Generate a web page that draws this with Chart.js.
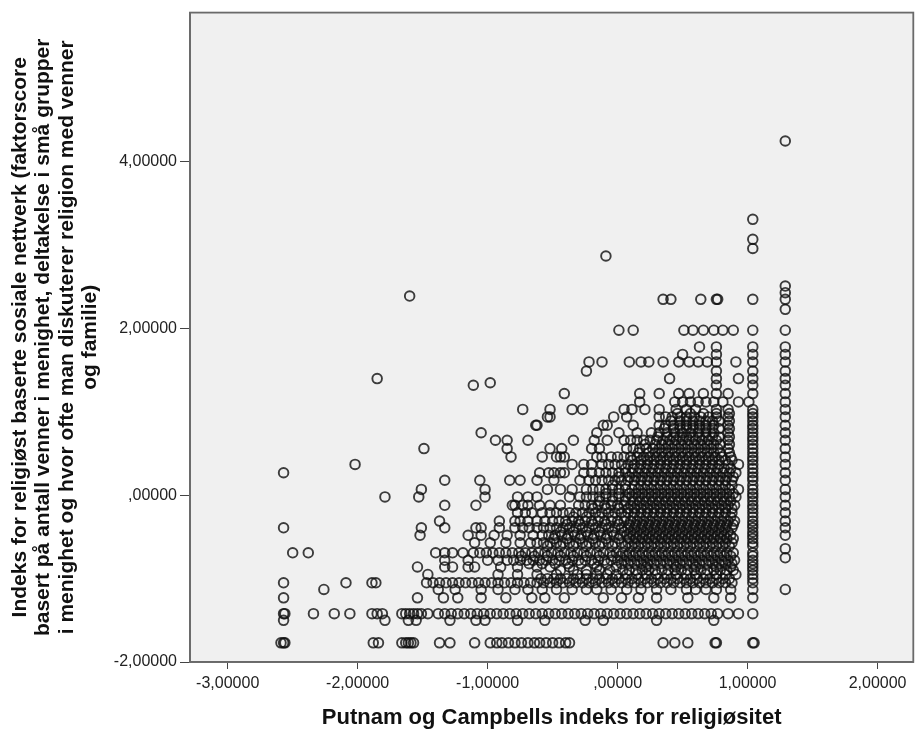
<!DOCTYPE html>
<html><head><meta charset="utf-8">
<script src="https://cdn.jsdelivr.net/npm/chart.js@4.4.1/dist/chart.umd.min.js"></script>
<style>html,body{margin:0;padding:0;background:#fff}#wrap{width:920px;height:732px}</style>
</head><body><div id="wrap"><canvas id="c" width="920" height="732" style="width:920px;height:732px"></canvas></div>
<script>
// ---- axis text ----
const xTitle = 'Putnam og Campbells indeks for religiøsitet';
const yTitle = [
  'Indeks for religiøst baserte sosiale nettverk (faktorscore',
  'basert på antall venner i menighet, deltakelse i små grupper',
  'i menighet og hvor ofte man diskuterer religion med venner',
  'og familie)'
];
const xTickValues = [-3, -2, -1, 0, 1, 2];
const xTickLabels = ['-3,00000', '-2,00000', '-1,00000', ',00000', '1,00000', '2,00000'];
const yTickValues = [-2, 0, 2, 4];
const yTickLabels = ['-2,00000', ',00000', '2,00000', '4,00000'];

// ---- data: y level of each row, and the x values observed on that row ----
const yLevels = [-1.77, -1.50, -1.42, -1.23, -1.13, -1.05, -0.95, -0.86, -0.78, -0.75, -0.69, -0.64, -0.57, -0.48, -0.39, -0.31, -0.21, -0.12, -0.02, 0.07, 0.18, 0.27, 0.37, 0.46, 0.56, 0.66, 0.75, 0.84, 0.94, 1.03, 1.12, 1.22, 1.32, 1.35, 1.40, 1.49, 1.60, 1.69, 1.78, 1.98, 2.23, 2.35, 2.39, 2.43, 2.51, 2.87, 2.96, 3.07, 3.31, 4.25,
  -1.00, -0.90, -0.82, -0.73, -0.61, -0.52, -0.44, -0.35, -0.26, -0.16, -0.07, 0.02, 0.12, 0.22, 0.32, 0.42, 0.51, 0.61, 0.70, 0.80, 0.89, 0.98];

const xM177 = [-2.59,-2.57,-2.56,-1.88,-1.84,-1.66,-1.63,-1.61,-1.59,-1.57,-1.37,-1.29,-1.10,-0.98,-0.93,-0.89,-0.84,-0.79,-0.74,-0.69,-0.64,-0.60,-0.55,-0.50,-0.45,-0.40,-0.37,0.35,0.44,0.54,0.75,0.76,1.04,1.05];
const xM150 = [-2.57,-1.79,-1.61,-1.55,-1.29,-1.09,-1.02,-0.77,-0.56,-0.25,-0.11,0.30,0.74];
const xM142 = [-2.57,-2.56,-2.34,-2.18,-2.06,-1.89,-1.85,-1.81,-1.66,-1.63,-1.60,-1.57,-1.54,-1.51,-1.46,-1.38,-1.33,-1.28,-1.23,-1.18,-1.13,-1.08,-1.03,-0.98,-0.93,-0.88,-0.83,-0.78,-0.73,-0.68,-0.63,-0.58,-0.53,-0.48,-0.43,-0.38,-0.33,-0.28,-0.23,-0.18,-0.13,-0.08,-0.03,0.02,0.07,0.12,0.17,0.22,0.27,0.32,0.37,0.42,0.47,0.52,0.57,0.62,0.67,0.72,0.77,0.85,0.93,1.04];
const xM123 = [-2.57,-1.54,-1.34,-1.23,-1.05,-0.86,-0.66,-0.56,-0.41,-0.11,0.03,0.16,0.30,0.54,0.74,0.87,1.04];
const xM113 = [-2.26,-1.38,-1.25,-1.05,-0.92,-0.79,-0.69,-0.58,-0.47,-0.35,-0.24,-0.16,-0.05,0.07,0.18,0.30,0.41,0.53,0.60,0.68,0.76,0.87,1.04,1.29];
const xM105 = [-2.57,-2.09,-1.89,-1.86,-1.47,-1.42,-1.37,-1.32,-1.27,-1.22,-1.17,-1.12,-1.07,-1.02,-0.97,-0.92,-0.87,-0.82,-0.77,-0.72,-0.67,-0.62,-0.57,-0.52,-0.47,-0.42,-0.37,-0.32,-0.27,-0.22,-0.17,-0.12,-0.07,-0.02,0.03,0.08,0.13,0.18,0.23,0.28,0.33,0.38,0.43,0.48,0.53,0.58,0.63,0.68,0.73,0.78,0.83,0.88,1.04];
const xM095 = [-1.46,-0.92,-0.77,-0.62,-0.47,-0.31,-0.24,-0.16,-0.08,-0.01,0.07,0.15,0.22,0.30,0.38,0.45,0.53,0.60,0.68,0.76,0.83,0.91,1.04];
const xM086 = [-1.54,-1.33,-1.27,-1.15,-1.10,-0.90,-0.77,-0.62,-0.52,-0.37,-0.16,-0.01,0.22,0.45,0.60,0.76,0.87,1.04];
const xM078 = [-1.33,-1.15,-1.00,-0.92,-0.85,-0.80,-0.75,-0.70,-0.65,-0.60,-0.55,-0.50,-0.45,-0.40,-0.35,-0.30,-0.25,-0.20,-0.15,-0.10,-0.05,0.00,0.05,0.10,0.15,0.20,0.25,0.30,0.35,0.40,0.45,0.50,0.55,0.60,0.65,0.70,0.75,0.80,0.85,0.90,1.04];
const xM075 = [1.29];
const xM069 = [-2.50,-2.38,-1.40,-1.33,-1.27,-1.19,-1.11,-1.06,-1.01,-0.96,-0.91,-0.86,-0.81,-0.76,-0.71,-0.66,-0.61,-0.56,-0.51,-0.46,-0.41,-0.36,-0.31,-0.26,-0.21,-0.16,-0.11,-0.06,-0.01,0.04,0.09,0.14,0.19,0.24,0.29,0.34,0.39,0.44,0.49,0.54,0.59,0.64,0.69,0.74,0.79,0.84,0.89,1.04];
const xM064 = [1.29];
const xM057 = [-1.10,-0.98,-0.86,-0.75,-0.67,-0.62,-0.57,-0.52,-0.47,-0.42,-0.37,-0.32,-0.27,-0.22,-0.17,-0.12,-0.07,-0.02,0.03,0.08,0.13,0.18,0.23,0.28,0.33,0.38,0.43,0.48,0.53,0.58,0.63,0.68,0.73,0.78,0.83,0.88,1.04];
const xM048 = [-1.52,-1.15,-1.05,-0.95,-0.85,-0.75,-0.65,-0.58,-0.53,-0.48,-0.43,-0.38,-0.33,-0.28,-0.23,-0.18,-0.13,-0.08,-0.03,0.02,0.07,0.12,0.17,0.22,0.27,0.32,0.37,0.42,0.47,0.52,0.57,0.62,0.67,0.72,0.77,0.82,0.87,1.04,1.29];
const xM039 = [-2.57,-1.51,-1.33,-1.09,-1.05,-0.91,-0.79,-0.73,-0.68,-0.62,-0.57,-0.52,-0.47,-0.42,-0.37,-0.32,-0.27,-0.22,-0.17,-0.12,-0.07,-0.02,0.03,0.08,0.13,0.18,0.23,0.28,0.33,0.38,0.43,0.48,0.53,0.58,0.63,0.68,0.73,0.78,0.83,0.88,1.04,1.29];
const xM031 = [-1.37,-0.91,-0.79,-0.75,-0.69,-0.62,-0.56,-0.50,-0.45,-0.40,-0.35,-0.30,-0.25,-0.20,-0.15,-0.10,-0.05,0.00,0.05,0.10,0.15,0.20,0.25,0.30,0.35,0.40,0.45,0.50,0.55,0.60,0.65,0.70,0.75,0.80,0.85,0.90,1.04,1.29];
const xM021 = [-0.77,-0.71,-0.66,-0.58,-0.52,-0.47,-0.42,-0.37,-0.32,-0.27,-0.22,-0.17,-0.12,-0.07,-0.02,0.03,0.08,0.13,0.18,0.23,0.28,0.33,0.38,0.43,0.48,0.53,0.58,0.63,0.68,0.73,0.78,0.83,0.88,1.04,1.29];
const xM012 = [-1.33,-1.09,-0.81,-0.79,-0.73,-0.69,-0.60,-0.52,-0.44,-0.30,-0.25,-0.20,-0.15,-0.10,-0.05,0.00,0.05,0.10,0.15,0.20,0.25,0.30,0.35,0.40,0.45,0.50,0.55,0.60,0.65,0.70,0.75,0.80,0.85,0.90,1.04,1.29];
const xM002 = [-1.79,-1.53,-1.02,-0.77,-0.69,-0.62,-0.37,-0.29,-0.24,-0.19,-0.14,-0.09,-0.04,0.01,0.06,0.11,0.16,0.21,0.26,0.31,0.36,0.41,0.46,0.51,0.56,0.61,0.66,0.71,0.76,0.81,0.86,0.91,1.04,1.29];
const xP007 = [-1.51,-1.02,-0.54,-0.44,-0.35,-0.24,-0.19,-0.14,-0.09,-0.04,0.01,0.06,0.11,0.16,0.21,0.26,0.31,0.36,0.41,0.46,0.51,0.56,0.61,0.66,0.71,0.76,0.81,0.86,0.93,1.04,1.29];
const xP018 = [-1.33,-1.06,-0.83,-0.75,-0.62,-0.49,-0.29,-0.22,-0.17,-0.12,-0.07,-0.02,0.03,0.08,0.13,0.18,0.23,0.28,0.33,0.38,0.43,0.48,0.53,0.58,0.63,0.68,0.73,0.78,0.83,0.88,1.04,1.29];
const xP027 = [-2.57,-0.60,-0.53,-0.49,-0.44,-0.41,-0.26,-0.20,-0.14,-0.09,-0.04,0.01,0.06,0.11,0.16,0.21,0.26,0.31,0.36,0.41,0.46,0.51,0.56,0.61,0.66,0.71,0.76,0.81,0.86,0.91,1.04,1.29];
const xP037 = [-2.02,-0.35,-0.26,-0.20,-0.12,-0.07,-0.02,0.03,0.08,0.13,0.18,0.23,0.28,0.33,0.38,0.43,0.48,0.53,0.58,0.63,0.68,0.73,0.78,0.85,0.93,1.04,1.29];
const xP046 = [-0.82,-0.58,-0.47,-0.44,-0.41,-0.16,-0.12,-0.05,0.00,0.05,0.10,0.15,0.20,0.25,0.30,0.35,0.40,0.45,0.50,0.55,0.60,0.65,0.70,0.75,0.80,0.87,1.04,1.29];
const xP056 = [-1.49,-0.85,-0.52,-0.43,-0.20,-0.14,0.07,0.12,0.17,0.22,0.27,0.32,0.37,0.42,0.47,0.52,0.57,0.62,0.67,0.72,0.77,0.85,1.04,1.29];
const xP066 = [-0.94,-0.85,-0.69,-0.34,-0.18,-0.08,0.05,0.10,0.15,0.20,0.25,0.30,0.35,0.40,0.45,0.50,0.55,0.60,0.65,0.70,0.76,0.85,1.04,1.29];
const xP075 = [-1.05,-0.16,0.01,0.15,0.26,0.32,0.38,0.44,0.50,0.56,0.62,0.68,0.74,0.85,1.04,1.29];
const xP084 = [-0.63,-0.62,-0.11,-0.08,0.12,0.32,0.37,0.43,0.48,0.53,0.58,0.63,0.68,0.74,0.85,1.04,1.29];
const xP094 = [-0.54,-0.52,-0.03,0.07,0.32,0.37,0.42,0.48,0.53,0.59,0.64,0.70,0.76,0.85,1.04,1.29];
const xP103 = [-0.73,-0.52,-0.35,-0.27,0.05,0.11,0.21,0.32,0.45,0.53,0.60,0.76,0.85,1.04,1.29];
const xP112 = [0.17,0.44,0.50,0.56,0.62,0.68,0.74,0.81,0.93,1.01,1.29];
const xP122 = [-0.41,0.17,0.32,0.47,0.55,0.66,0.76,0.85,1.04,1.29];
const xP132 = [-1.11,0.76,1.04,1.29];
const xP135 = [-0.98];
const xP140 = [-1.85,0.40,0.76,0.93,1.04,1.29];
const xP149 = [-0.24,0.76,1.04,1.29];
const xP160 = [-0.22,-0.12,0.09,0.18,0.24,0.35,0.47,0.55,0.62,0.69,0.76,0.91,1.04,1.29];
const xP169 = [0.50,0.76,1.04,1.29];
const xP178 = [0.63,0.76,1.04,1.29];
const xP198 = [0.01,0.12,0.51,0.58,0.66,0.74,0.81,0.89,1.04,1.29];
const xP223 = [1.29];
const xP235 = [0.35,0.41,0.64,0.76,0.77,1.04,1.29];
const xP239 = [-1.60];
const xP243 = [1.29];
const xP251 = [1.29];
const xP287 = [-0.09];
const xP296 = [1.04];
const xP307 = [1.04];
const xP331 = [1.04];
const xP425 = [1.29];
// in-between rows of the dense core
const xM100 = [-0.59,-0.54,-0.49,-0.44,-0.39,-0.34,-0.29,-0.24,-0.19,-0.14,-0.09,-0.04,0.01,0.06,0.11,0.16,0.21,0.26,0.31,0.36,0.41,0.46,0.51,0.56,0.61,0.66,0.71,0.76,0.81,0.86,1.04];
const xM090 = [-0.44,-0.34,-0.24,-0.14,-0.06,0.04,0.09,0.14,0.19,0.24,0.29,0.34,0.39,0.44,0.49,0.54,0.59,0.64,0.69,0.74,0.79,0.84,0.89,1.04];
const xM082 = [-0.68,-0.58,-0.48,-0.38,-0.28,-0.18,-0.08,0.03,0.08,0.13,0.18,0.23,0.28,0.33,0.38,0.43,0.48,0.53,0.58,0.63,0.68,0.73,0.78,0.83,0.88,1.04];
const xM073 = [-0.74,-0.64,-0.54,-0.44,-0.34,-0.24,-0.14,-0.04,0.02,0.07,0.12,0.17,0.22,0.27,0.32,0.37,0.42,0.47,0.52,0.57,0.62,0.67,0.72,0.77,0.82,0.87,1.04];
const xM061 = [-0.54,-0.44,-0.34,-0.24,-0.14,-0.04,0.06,0.11,0.16,0.21,0.26,0.31,0.36,0.41,0.46,0.51,0.56,0.61,0.66,0.71,0.76,0.81,0.86,1.04];
const xM052 = [-0.49,-0.39,-0.29,-0.19,-0.09,0.01,0.09,0.14,0.19,0.24,0.29,0.34,0.39,0.44,0.49,0.54,0.59,0.64,0.69,0.74,0.79,0.84,0.89,1.04];
const xM044 = [-0.44,-0.34,-0.24,-0.14,-0.04,0.05,0.10,0.15,0.20,0.25,0.30,0.35,0.40,0.45,0.50,0.55,0.60,0.65,0.70,0.75,0.80,0.85,1.04];
const xM035 = [-0.39,-0.29,-0.19,-0.09,0.01,0.09,0.14,0.19,0.24,0.29,0.34,0.39,0.44,0.49,0.54,0.59,0.64,0.69,0.74,0.79,0.84,0.89,1.04];
const xM026 = [-0.34,-0.24,-0.14,-0.04,0.06,0.12,0.17,0.22,0.27,0.32,0.37,0.42,0.47,0.52,0.57,0.62,0.67,0.72,0.77,0.82,0.87,1.04];
const xM016 = [-0.19,-0.09,0.01,0.08,0.13,0.18,0.23,0.28,0.33,0.38,0.43,0.48,0.53,0.58,0.63,0.68,0.73,0.78,0.83,0.88,1.04];
const xM007 = [-0.14,-0.04,0.06,0.12,0.17,0.22,0.27,0.32,0.37,0.42,0.47,0.52,0.57,0.62,0.67,0.72,0.77,0.82,0.87,1.04];
const xP002 = [-0.09,0.01,0.09,0.14,0.19,0.24,0.29,0.34,0.39,0.44,0.49,0.54,0.59,0.64,0.69,0.74,0.79,0.84,0.89,1.04];
const xP012 = [-0.04,0.06,0.13,0.18,0.23,0.28,0.33,0.38,0.43,0.48,0.53,0.58,0.63,0.68,0.73,0.78,0.83,0.88,1.04];
const xP022 = [0.01,0.09,0.14,0.19,0.24,0.29,0.34,0.39,0.44,0.49,0.54,0.59,0.64,0.69,0.74,0.79,0.84,0.89,1.04];
const xP032 = [0.06,0.12,0.17,0.22,0.27,0.32,0.37,0.42,0.47,0.52,0.57,0.62,0.67,0.72,0.77,0.82,0.87,1.04];
const xP042 = [0.11,0.18,0.23,0.28,0.33,0.38,0.43,0.48,0.53,0.58,0.63,0.68,0.73,0.78,0.83,0.88,1.04];
const xP051 = [0.16,0.24,0.29,0.34,0.39,0.44,0.49,0.54,0.59,0.64,0.69,0.74,0.79,0.86,1.04];
const xP061 = [0.21,0.29,0.34,0.39,0.44,0.49,0.54,0.59,0.64,0.69,0.74,0.79,0.86,1.04];
const xP070 = [0.31,0.38,0.43,0.48,0.53,0.58,0.63,0.68,0.73,0.78,0.86,1.04];
const xP080 = [0.36,0.43,0.48,0.53,0.58,0.63,0.68,0.73,0.78,0.86,1.04];
const xP089 = [0.41,0.48,0.53,0.58,0.63,0.68,0.73,0.78,0.86,1.04];
const xP098 = [0.46,0.56,0.66,0.76,0.86,1.04];

const xRows = [xM177, xM150, xM142, xM123, xM113, xM105, xM095, xM086, xM078, xM075, xM069, xM064, xM057, xM048, xM039, xM031, xM021, xM012, xM002, xP007, xP018, xP027, xP037, xP046, xP056, xP066, xP075, xP084, xP094, xP103, xP112, xP122, xP132, xP135, xP140, xP149, xP160, xP169, xP178, xP198, xP223, xP235, xP239, xP243, xP251, xP287, xP296, xP307, xP331, xP425,
  xM100, xM090, xM082, xM073, xM061, xM052, xM044, xM035, xM026, xM016, xM007, xP002, xP012, xP022, xP032, xP042, xP051, xP061, xP070, xP080, xP089, xP098];

const points = [];
xRows.forEach((row, i) => row.forEach(x => points.push({x: x, y: yLevels[i]})));

const framePlugin = {
  id: 'frame',
  beforeDraw(chart) {
    const {ctx, chartArea: a} = chart;
    ctx.save();
    ctx.fillStyle = '#f0f0f0';
    ctx.fillRect(a.left, a.top, a.right - a.left, a.bottom - a.top);
    ctx.restore();
  },
  afterDatasetsDraw(chart) {
    const {ctx, chartArea: a} = chart;
    ctx.save();
    ctx.strokeStyle = '#6a6a6a';
    ctx.lineWidth = 1.8;
    ctx.strokeRect(a.left, a.top, a.right - a.left, a.bottom - a.top);
    ctx.restore();
  }
};

const FONT = "'Liberation Sans', Arial, sans-serif";

new Chart(document.getElementById('c'), {
  type: 'scatter',
  data: { datasets: [{
    data: points,
    pointStyle: 'circle',
    pointRadius: 4.8,
    pointBorderWidth: 1.9,
    borderColor: 'rgba(15,15,15,0.8)',
    backgroundColor: 'rgba(0,0,0,0)',
    showLine: false
  }]},
  options: {
    responsive: false,
    animation: false,
    events: [],
    layout: { padding: { top: 8, right: 2, left: 0, bottom: 0 } },
    plugins: { legend: { display: false }, tooltip: { enabled: false } },
    scales: {
      x: {
        type: 'linear', min: -3.29, max: 2.275,
        afterBuildTicks(s) { s.ticks = xTickValues.map(v => ({value: v})); },
        afterFit(s) { s.height = 70; },
        ticks: { autoSkip: false, maxRotation: 0, padding: 5, color: '#222',
          font: { family: FONT, size: 16 },
          callback: (v, i) => xTickLabels[i] },
        grid: { drawOnChartArea: false, drawTicks: true, tickLength: 7, color: '#444' },
        border: { display: true, color: '#6a6a6a', width: 1.8 },
        title: { display: true, text: xTitle, color: '#111',
          font: { family: FONT, size: 22, weight: 'bold', lineHeight: 1.2 }, padding: { top: 0, bottom: 1 } }
      },
      y: {
        type: 'linear', min: -2, max: 5.79,
        afterBuildTicks(s) { s.ticks = yTickValues.map(v => ({value: v})); },
        afterFit(s) { s.width = 190; },
        ticks: { autoSkip: false, padding: 3, color: '#222',
          font: { family: FONT, size: 16 },
          callback: (v, i) => yTickLabels[i] },
        grid: { drawOnChartArea: false, drawTicks: true, tickLength: 10, color: '#444' },
        border: { display: true, color: '#6a6a6a', width: 1.8 },
        title: { display: true, text: yTitle, color: '#111',
          font: { family: FONT, size: 21, weight: 'bold', lineHeight: 1.12 }, padding: { top: 8, bottom: 0 } }
      }
    }
  },
  plugins: [framePlugin]
});
</script></body></html>
